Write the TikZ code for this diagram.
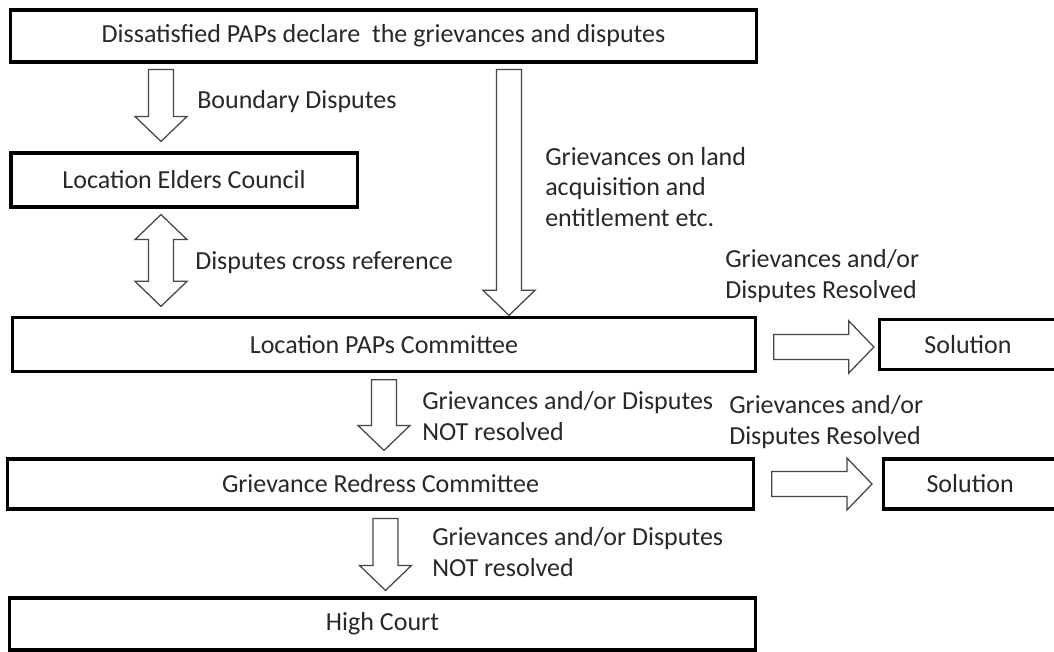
\documentclass[tikz,border=0pt]{standalone}
\usepackage{fontspec}
\setmainfont{Carlito}
\usepackage{tikz}
\usetikzlibrary{calc,positioning}
\definecolor{inkgray}{RGB}{40,40,40}
\definecolor{arrowgray}{RGB}{70,70,70}

\begin{document}
\begin{tikzpicture}[x=0.025cm,y=-0.025cm,font=\fontsize{18.5}{21.5}\selectfont]
  \tikzstyle{stagebox}=[rectangle,draw=black,line width=2.2pt,fill=white,minimum height=1.3cm,text=inkgray,inner sep=0pt]
  \tikzstyle{note}=[align=left,anchor=west,inner sep=0pt,text=inkgray]
  % hollow block arrows, drawn between two points
  \tikzstyle{fatdown}=[draw=arrowgray,line width=0.9pt,fill=white,to path={let \p1=(\tikztostart), \p2=(\tikztotarget) in
    (\x1-8.9pt,\y1) -- (\x1-8.9pt,\y2+17.8pt) -- (\x1-18.5pt,\y2+17.8pt) -- (\x1,\y2)
    -- (\x1+18.5pt,\y2+17.8pt) -- (\x1+8.9pt,\y2+17.8pt) -- (\x1+8.9pt,\y1) -- cycle}]
  \tikzstyle{fatright}=[draw=arrowgray,line width=0.9pt,fill=white,to path={let \p1=(\tikztostart), \p2=(\tikztotarget) in
    (\x1,\y1-8.9pt) -- (\x2-17.8pt,\y1-8.9pt) -- (\x2-17.8pt,\y1-18.5pt) -- (\x2,\y1)
    -- (\x2-17.8pt,\y1+18.5pt) -- (\x2-17.8pt,\y1+8.9pt) -- (\x1,\y1+8.9pt) -- cycle}]
  \tikzstyle{fatboth}=[draw=arrowgray,line width=0.9pt,fill=white,to path={let \p1=(\tikztostart), \p2=(\tikztotarget) in
    (\x1,\y1) -- (\x1+18.5pt,\y1-17.8pt) -- (\x1+8.9pt,\y1-17.8pt) -- (\x1+8.9pt,\y2+17.8pt)
    -- (\x1+18.5pt,\y2+17.8pt) -- (\x1,\y2) -- (\x1-18.5pt,\y2+17.8pt) -- (\x1-8.9pt,\y2+17.8pt)
    -- (\x1-8.9pt,\y1-17.8pt) -- (\x1-18.5pt,\y1-17.8pt) -- cycle}]

  \useasboundingbox[fill=white] (0,0) rectangle (1054,652);

  \node[stagebox,minimum width=18.63cm] (declare) at (383.5,36) {Dissatisfied PAPs declare\ \ the grievances and disputes};
  \node[stagebox,minimum width=8.65cm,minimum height=1.35cm] (elders) at (184,180) {Location Elders Council};
  \node[stagebox,minimum width=18.55cm,minimum height=1.33cm] (lpc) at (384,344.5) {Location PAPs Committee};
  \node[stagebox,minimum width=18.63cm,minimum height=1.25cm] (grc) at (380.5,484) {Grievance Redress Committee};
  \node[stagebox,minimum width=18.63cm] (court) at (382.5,624) {High Court};
  \node[stagebox,minimum width=4.43cm,minimum height=1.25cm,right=3.03cm of lpc] (sol1) {Solution};
  \node[stagebox,minimum width=4.33cm,minimum height=1.25cm,right=3.18cm of grc] (sol2) {Solution};

  \node[note] (boundary) at (197,102) {Boundary Disputes};
  \node[note] (crossref) at (195,263) {Disputes cross reference};
  \node[note] (landacq) at (545,187) {Grievances on land\\acquisition and\\entitlement etc.};
  \node[note] (resolved1) at (725,276) {Grievances and/or\\Disputes Resolved};
  \node[note] (notres1) at (422,416) {Grievances and/or Disputes\\NOT resolved};
  \node[note] (resolved2) at (729,422) {Grievances and/or\\Disputes Resolved};
  \node[note] (notres2) at (432,552) {Grievances and/or Disputes\\NOT resolved};

  \draw[fatdown] ($(declare.south -| elders.north)+(-23,6)$) to ($(elders.north)+(-23,-10)$);
  \draw[fatboth] ($(elders.south)+(-23,6)$) to ($(lpc.north -| elders.south)+(-23,-10)$);
  \draw[fatdown] ($(declare.south)+(125.5,6)$) to ($(lpc.north)+(125,-1)$);
  \draw[fatdown] ($(lpc.south)+(0,7)$) to ($(grc.north -| lpc.south)+(0,-7)$);
  \draw[fatdown] ($(grc.south)+(5,8)$) to ($(court.north -| grc.south)+(5,-6)$);
  \draw[fatright] ($(lpc.east)+(17,2.5)$) to ($(sol1.west)+(-4,0)$);
  \draw[fatright] ($(grc.east)+(17,0)$) to ($(sol2.west)+(-10,0)$);
\end{tikzpicture}
\end{document}
